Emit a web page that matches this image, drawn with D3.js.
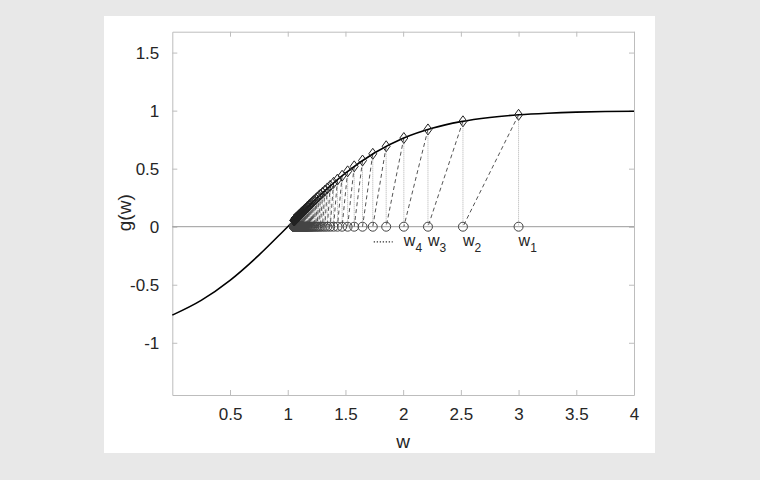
<!DOCTYPE html>
<html>
<head>
<meta charset="utf-8">
<script src="https://cdn.jsdelivr.net/npm/d3@7"></script>
<style>
  body { margin: 0; background: #e8e8e8; }
  svg { display: block; font-family: "Liberation Sans", Arial, sans-serif; }
  .axis text { fill: #262626; font-size: 17px; }
  .axis path, .axis line { stroke: #bdbdbd; }
</style>
</head>
<body>
<div class="viz"></div>
<script>
// the curve g(w)
var curveW = [0, 0.25, 0.5, 0.75, 1, 1.25, 1.5, 1.75, 2, 2.25, 2.5, 2.75, 3, 3.25, 3.5, 3.75, 4];
var curveG = [-0.762, -0.635, -0.462, -0.245, 0, 0.245, 0.462, 0.635, 0.762, 0.848, 0.905, 0.941, 0.964, 0.978, 0.987, 0.992, 0.995];

// iterates w_k (circles on the axis) and g(w_k) (diamonds on the curve)
var iterW = [3.000, 2.518, 2.215, 2.006, 1.853, 1.737, 1.648, 1.576, 1.519, 1.471,
             1.431, 1.397, 1.368, 1.343, 1.321, 1.302, 1.284, 1.269, 1.255, 1.243,
             1.231, 1.221, 1.212, 1.203, 1.195, 1.187, 1.181, 1.174, 1.168, 1.163,
             1.157, 1.153, 1.148, 1.144, 1.140, 1.136, 1.132, 1.129, 1.125, 1.122,
             1.119, 1.116, 1.114, 1.111, 1.109, 1.106, 1.104, 1.102, 1.100, 1.098,
             1.096, 1.094, 1.092, 1.091, 1.089, 1.087, 1.086, 1.084, 1.083, 1.082,
             1.080, 1.079, 1.078, 1.076, 1.075, 1.074, 1.073, 1.072, 1.071, 1.070,
             1.069, 1.068, 1.067, 1.066, 1.065, 1.064, 1.064, 1.063, 1.062, 1.061,
             1.060, 1.060, 1.059, 1.058, 1.058, 1.057, 1.056, 1.056, 1.055, 1.054];
var iterG = [0.964, 0.908, 0.838, 0.764, 0.693, 0.628, 0.570, 0.520, 0.477, 0.439,
             0.406, 0.378, 0.352, 0.330, 0.310, 0.293, 0.277, 0.263, 0.250, 0.238,
             0.227, 0.218, 0.209, 0.200, 0.192, 0.185, 0.179, 0.172, 0.167, 0.161,
             0.156, 0.151, 0.147, 0.143, 0.139, 0.135, 0.131, 0.128, 0.125, 0.122,
             0.119, 0.116, 0.113, 0.111, 0.108, 0.106, 0.104, 0.102, 0.100, 0.098,
             0.096, 0.094, 0.092, 0.090, 0.089, 0.087, 0.086, 0.084, 0.083, 0.081,
             0.080, 0.079, 0.078, 0.076, 0.075, 0.074, 0.073, 0.072, 0.071, 0.070,
             0.069, 0.068, 0.067, 0.066, 0.065, 0.064, 0.063, 0.063, 0.062, 0.061,
             0.060, 0.060, 0.059, 0.058, 0.057, 0.057, 0.056, 0.056, 0.055, 0.054];

// annotation labels under the first circles
var labelSubs = ["1", "2", "3", "4"];
var labelY = -0.17;
var dotsFrom = 1.745, dotsTo = 1.91, dotsY = -0.13;

// axis ticks
var xTicks = [0.5, 1, 1.5, 2, 2.5, 3, 3.5, 4];
var yTicks = [-1, -0.5, 0, 0.5, 1, 1.5];

// dimensions
var width = 760, height = 480;
var plot = { left: 172.3, right: 634, top: 31.7, bottom: 395 };

var xScale = d3.scaleLinear().domain([0, 4]).range([plot.left, plot.right]);
var yScale = d3.scaleLinear().domain([-1.45, 1.68]).range([plot.bottom, plot.top]);

var svg = d3.select(".viz").append("svg")
    .attr("width", width)
    .attr("height", height);

// figure background
svg.append("rect").attr("width", width).attr("height", height).attr("fill", "#e8e8e8");
svg.append("rect").attr("x", 104).attr("y", 16).attr("width", 551).attr("height", 437).attr("fill", "#fff");

// axes with inward ticks on all four sides
var fmt = d => String(d);
var gX = svg.append("g").attr("class", "axis")
    .attr("transform", "translate(0," + plot.bottom + ")")
    .call(d3.axisBottom(xScale).tickValues(xTicks).tickFormat(fmt).tickSizeInner(-5).tickSizeOuter(0).tickPadding(13));
svg.append("g").attr("class", "axis")
    .attr("transform", "translate(0," + plot.top + ")")
    .call(d3.axisTop(xScale).tickValues(xTicks).tickFormat("").tickSizeInner(-5).tickSizeOuter(0));
svg.append("g").attr("class", "axis")
    .attr("transform", "translate(" + plot.left + ",0)")
    .call(d3.axisLeft(yScale).tickValues(yTicks).tickFormat(fmt).tickSizeInner(-5).tickSizeOuter(0).tickPadding(13));
svg.append("g").attr("class", "axis")
    .attr("transform", "translate(" + plot.right + ",0)")
    .call(d3.axisRight(yScale).tickValues(yTicks).tickFormat("").tickSizeInner(-5).tickSizeOuter(0));

var inner = svg.append("g");

// zero line
inner.append("line")
    .attr("x1", plot.left).attr("x2", plot.right)
    .attr("y1", yScale(0)).attr("y2", yScale(0))
    .attr("stroke", "#9a9a9a").attr("stroke-width", 1);

// dotted verticals: circle up to diamond
inner.selectAll(".vline")
    .data(iterW)
    .enter().append("line")
    .attr("class", "vline")
    .attr("x1", d => xScale(d)).attr("x2", d => xScale(d))
    .attr("y1", yScale(0)).attr("y2", (d, i) => yScale(iterG[i]))
    .attr("stroke", "#b0b0b0").attr("stroke-width", 1).attr("stroke-dasharray", "1,1");

// dashed lines: diamond k to circle k+1
inner.selectAll(".dline")
    .data(iterW.slice(0, -1))
    .enter().append("line")
    .attr("class", "dline")
    .attr("x1", d => xScale(d)).attr("y1", (d, i) => yScale(iterG[i]))
    .attr("x2", (d, i) => xScale(iterW[i + 1])).attr("y2", yScale(0))
    .attr("stroke", "#555").attr("stroke-width", 1).attr("stroke-dasharray", "4,3");

// curve
var line = d3.line()
    .x(d => xScale(d[0]))
    .y(d => yScale(d[1]))
    .curve(d3.curveMonotoneX);
inner.append("path")
    .datum(curveW.map((w, i) => [w, curveG[i]]))
    .attr("d", line)
    .attr("fill", "none")
    .attr("stroke", "#000")
    .attr("stroke-width", 1.6);

// circles on the axis
inner.selectAll(".circ")
    .data(iterW)
    .enter().append("circle")
    .attr("class", "circ")
    .attr("cx", d => xScale(d)).attr("cy", yScale(0))
    .attr("r", 4.5)
    .attr("fill", "none").attr("stroke", "#444").attr("stroke-width", 1);

// diamonds on the curve
inner.selectAll(".diam")
    .data(iterW)
    .enter().append("path")
    .attr("class", "diam")
    .attr("transform", (d, i) => "translate(" + xScale(d) + "," + yScale(iterG[i]) + ")")
    .attr("d", "M0,-5.5L4,0L0,5.5L-4,0Z")
    .attr("fill", "none").attr("stroke", "#222").attr("stroke-width", 1);

// w_k labels
var lab = inner.selectAll(".wlab")
    .data(labelSubs)
    .enter().append("text")
    .attr("class", "wlab")
    .attr("x", (d, i) => xScale(iterW[i]))
    .attr("y", yScale(labelY))
    .attr("fill", "#262626")
    .style("font-size", "16px");
lab.append("tspan").text("w");
lab.append("tspan").attr("dy", 6).style("font-size", "12px").text(d => d);

// dotted lead-in
inner.append("line")
    .attr("x1", xScale(dotsFrom)).attr("x2", xScale(dotsTo))
    .attr("y1", yScale(dotsY)).attr("y2", yScale(dotsY))
    .attr("stroke", "#333").attr("stroke-width", 1.2).attr("stroke-dasharray", "1.3,1.7");

// axis labels
svg.append("text")
    .attr("x", (plot.left + plot.right) / 2)
    .attr("y", 448)
    .attr("text-anchor", "middle")
    .attr("fill", "#262626")
    .style("font-size", "19px")
    .text("w");
svg.append("text")
    .attr("transform", "translate(131," + yScale(0.12) + ") rotate(-90)")
    .attr("text-anchor", "middle")
    .attr("fill", "#262626")
    .style("font-size", "19px")
    .text("g(w)");
</script>
</body>
</html>
